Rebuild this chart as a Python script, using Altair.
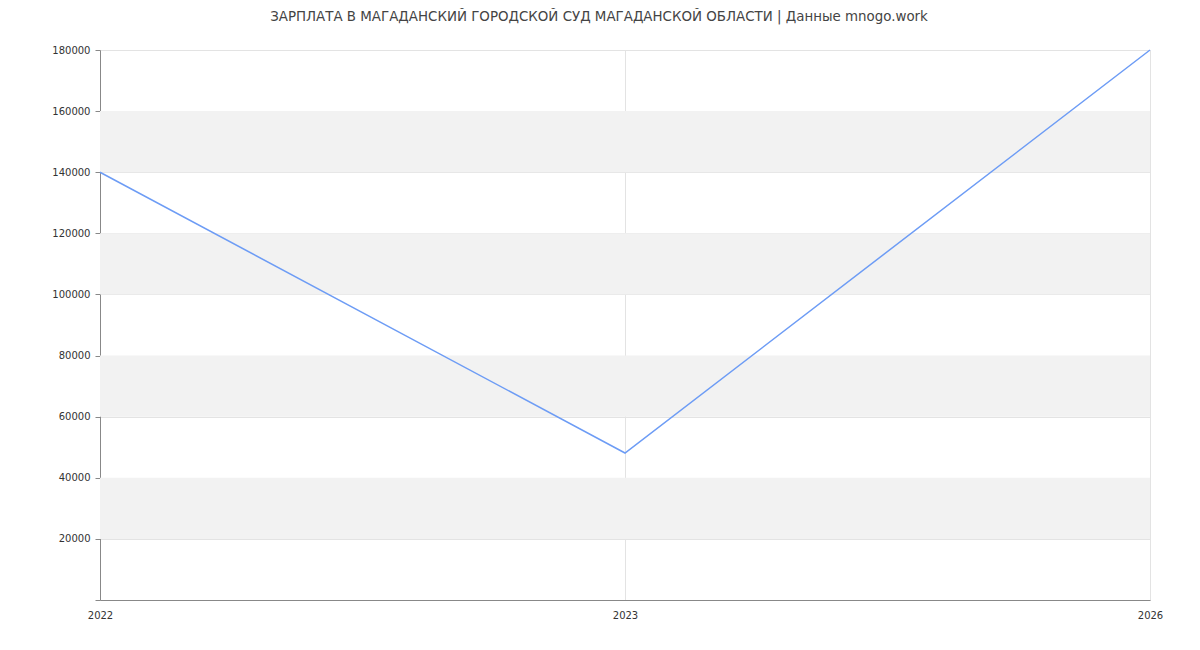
import altair as alt
import pandas as pd

years = ["2022", "2023", "2026"]
salaries = [140000, 48100, 180000]
band_starts = [20000, 60000, 100000, 140000]
band_ends = [40000, 80000, 120000, 160000]

title_text = "ЗАРПЛАТА В МАГАДАНСКИЙ ГОРОДСКОЙ СУД МАГАДАНСКОЙ ОБЛАСТИ | Данные mnogo.work"

df = pd.DataFrame({"year": years, "salary": salaries})
bands = pd.DataFrame({"y0": band_starts, "y1": band_ends})

W, H = 1050, 550

yscale = alt.Scale(domain=[0, 180000], nice=False, zero=True)

band_layer = alt.Chart(bands).mark_rect(color="#f2f2f2").encode(
    x=alt.value(0),
    x2=alt.value(W),
    y=alt.Y("y0:Q", scale=yscale),
    y2="y1:Q",
)

line_layer = alt.Chart(df).mark_line(color="#6d9cf5", strokeWidth=1.5).encode(
    x=alt.X(
        "year:O",
        sort=years,
        scale=alt.Scale(type="point", padding=0),
        axis=alt.Axis(
            title=None,
            labelAngle=0,
            ticks=False,
            grid=True,
            gridColor="#e3e3e3",
            domainColor="#888888",
            labelColor="#333333",
            labelFontSize=10,
            labelPadding=10,
            labelFont="DejaVu Sans",
        ),
    ),
    y=alt.Y(
        "salary:Q",
        scale=yscale,
        axis=alt.Axis(
            title=None,
            values=[0, 20000, 40000, 60000, 80000, 100000, 120000, 140000, 160000, 180000],
            labelExpr="datum.value == 0 ? '' : datum.value",
            grid=True,
            gridColor="#e3e3e3",
            domainColor="#888888",
            tickColor="#888888",
            tickSize=5,
            labelColor="#333333",
            labelFontSize=10,
            labelPadding=5,
            labelFont="DejaVu Sans",
        ),
    ),
)

chart = (
    alt.layer(band_layer, line_layer)
    .properties(
        width=W,
        height=H,
        title=alt.TitleParams(
            text=title_text,
            font="DejaVu Sans",
            fontSize=13.4,
            fontWeight="normal",
            color="#444444",
            anchor="middle",
            dx=-26,
            offset=22,
        ),
        autosize=alt.AutoSizeParams(type="none"),
        padding={"left": 92, "top": 42, "right": 42, "bottom": 42},
    )
    .configure_view(stroke=None)
)

chart.save("out.html", embed_options={"renderer": "svg", "actions": False})
